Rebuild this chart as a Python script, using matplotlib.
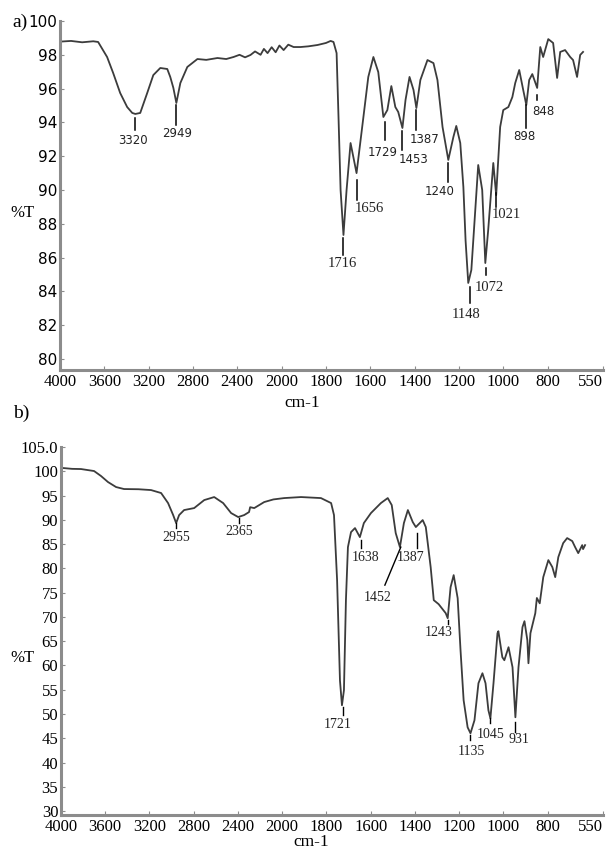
"""
FTIR spectra a) and b) - %T vs wavenumber (scale doubles below 2000 cm-1)
"""

import matplotlib
matplotlib.use("Agg")
import matplotlib.pyplot as plt
import numpy as np

# ── spectrum a) ──
wn_a = [4000, 3900, 3800, 3700, 3656, 3575, 3520, 3457, 3394, 3348, 3320, 3276,
        3213, 3158, 3095, 3032, 3005, 2977, 2950, 2914, 2851, 2760, 2680, 2579,
        2500, 2434, 2380, 2330, 2281, 2240, 2190, 2160, 2127, 2090, 2054, 2020,
        1991, 1970, 1946, 1915, 1880, 1838, 1800, 1779, 1766, 1752, 1743, 1734,
        1721, 1707, 1689, 1662, 1631, 1609, 1586, 1564, 1541, 1523, 1505, 1487,
        1474, 1455, 1441, 1423, 1405, 1392, 1374, 1342, 1315, 1297, 1274, 1248,
        1225, 1212, 1194, 1180, 1170, 1158, 1144, 1113, 1095, 1081, 1068, 1045,
        1032, 1014, 1000, 977, 959, 946, 928, 910, 896, 883, 869, 847, 833, 820,
        797, 775, 757, 743, 721, 698, 685, 667, 653, 640]
t_a = [98.78, 98.82, 98.74, 98.8, 98.76, 97.87, 96.92, 95.74, 94.91, 94.56, 94.5, 94.56,
       95.74, 96.8, 97.22, 97.16, 96.69, 96.04, 95.15, 96.33, 97.28, 97.75, 97.7, 97.81,
       97.75, 97.87, 98.0, 97.85, 97.99, 98.2, 98.0, 98.35, 98.1, 98.45, 98.15, 98.55,
       98.28, 98.6, 98.46, 98.46, 98.5, 98.58, 98.7, 98.82, 98.76, 98.1, 94.14, 90.0,
       87.34, 90.0, 92.78, 91.0, 94.32, 96.69, 97.87, 96.98, 94.32, 94.73, 96.15, 94.91,
       94.62, 93.67, 95.33, 96.69, 95.92, 94.85, 96.51, 97.69, 97.51, 96.51, 93.73, 91.78,
       93.14, 93.79, 92.78, 90.18, 87.0, 84.5, 85.27, 91.48, 90.0, 85.68, 87.63, 91.6,
       89.7, 93.73, 94.73, 94.91, 95.5, 96.33, 97.1, 95.92, 95.03, 96.51, 96.86, 96.04, 98.46, 97.87,
       98.93, 98.7, 96.63, 98.17, 98.28, 97.87, 97.69, 96.69, 97.99, 98.17]

# ── spectrum b) ──
wn_b = [3982, 3900, 3819, 3701, 3638, 3575, 3502, 3430, 3300, 3186, 3095, 3032,
        2986, 2959, 2932, 2887, 2796, 2705, 2615, 2534, 2462, 2398, 2344, 2300,
        2290, 2253, 2163, 2080, 1991, 1915, 1825, 1779, 1766, 1752, 1739, 1730,
        1721, 1712, 1703, 1689, 1671, 1649, 1631, 1599, 1554, 1523, 1505, 1487,
        1468, 1450, 1432, 1410, 1396, 1365, 1351, 1329, 1315, 1293, 1261, 1252,
        1239, 1225, 1207, 1194, 1180, 1162, 1149, 1131, 1113, 1095, 1081, 1068,
        1059, 1045, 1027, 1023, 1005, 996, 977, 959, 946, 932, 914, 905, 892,
        887, 878, 856, 849, 836, 820, 797, 779, 766, 752, 730, 712, 689, 676,
        662, 644, 640, 631]
t_b = [100.67, 100.5, 100.46, 100.05, 99.02, 97.78, 96.75, 96.34, 96.3, 96.13, 95.52, 93.45,
       90.98, 89.33, 90.98, 92.01, 92.42, 94.07, 94.69, 93.45, 91.39, 90.57, 90.98, 91.6,
       92.6, 92.42, 93.66, 94.2, 94.48, 94.69, 94.48, 93.45, 90.98, 77.6, 56.9, 51.8,
       54.9, 73.5, 84.38, 87.47, 88.3, 86.44, 89.33, 91.39, 93.45, 94.48, 93.04, 87.27,
       84.38, 89.33, 92.01, 89.54, 88.51, 89.95, 88.51, 80.26, 73.45, 72.63, 70.77, 69.74,
       76.13, 78.61, 73.87, 63.14, 52.84, 47.27, 46.03, 48.71, 56.34, 58.4, 56.34, 50.77,
       49.12, 56.34, 66.65, 67.06, 61.7, 61.08, 63.76, 59.64, 49.33, 59.64, 67.89, 69.12, 65.21,
       60.46, 66.65, 70.77, 73.9, 72.8, 78.2, 81.7, 80.26, 78.2, 82.32, 85.2, 86.24, 85.62, 84.38,
       83.14, 84.79, 83.97, 84.79]

# ── peak labels: text, line x, line y1, line y2, text x, text y ──
pk_a_lab = ["3320", "2949", "1729", "1453", "1387", "1240", "898", "848",
            "1656", "1716", "1148", "1072", "1021"]
pk_a_wn = [3321, 2950, 1532, 1455, 1392, 1248, 896, 847, 1662, 1721, 1149, 1077, 1032]
pk_a_y1 = [94.26, 95.03, 94.0, 93.5, 94.73, 91.6, 95.03, 95.62, 90.6, 87.16, 84.26, 85.38, 89.82]
pk_a_y2 = [93.55, 93.85, 92.96, 92.37, 93.55, 90.47, 93.67, 95.33, 89.4, 86.15, 83.31, 84.97, 89.0]
pk_a_tx = [3339, 2941, 1545, 1405, 1356, 1288, 905, 820, 1604, 1725, 1167, 1062, 986]
pk_a_ty = [92.9, 93.37, 92.19, 91.83, 93.0, 89.94, 93.14, 94.67, 88.93, 85.68, 82.66, 84.26, 88.58]
pk_a_serif = ["1656", "1716", "1148", "1072", "1021"]

pk_b_lab = ["2955", "2365", "1638", "1387", "1452", "1243", "1721", "1135", "1045", "931"]
pk_b_x1 = [2960, 2389, 1644, 1392, 1536, 1252, 1725, 1149, 1059, 946]
pk_b_x2 = [2960, 2389, 1644, 1392, 1464, 1252, 1725, 1149, 1059, 946]
pk_b_y1 = [89.33, 90.36, 85.82, 87.27, 76.55, 69.33, 51.39, 45.62, 49.12, 48.3]
pk_b_y2 = [88.3, 89.33, 84.18, 84.18, 84.38, 68.5, 49.74, 44.59, 48.09, 46.24]
pk_b_tx = [2960, 2389, 1622, 1419, 1568, 1293, 1748, 1144, 1059, 928]
pk_b_ty = [86.44, 87.68, 82.32, 82.32, 74.07, 66.86, 47.89, 42.32, 45.82, 44.79]

xticks = [4000, 3600, 3200, 2800, 2400, 2000, 1800, 1600, 1400, 1200, 1000, 800, 550]
yticks_a = list(range(80, 101, 2))
yticks_b = list(range(30, 106, 5))

SERIF = "Liberation Serif"
SANS = "DejaVu Sans"
C_LINE = "#3c3c3c"
C_SPINE = "#8c8c8c"


# scale: 1 cm-1 above 2000 counts half of 1 cm-1 below 2000
def fwd(w):
    w = np.asarray(w, dtype=float)
    return np.where(w >= 2000, w, 2 * w - 2000)


def inv(u):
    u = np.asarray(u, dtype=float)
    return np.where(u >= 2000, u, (u + 2000) / 2)


def style_axes(ax, ylim, yticks, ylabels, yfont, yfs):
    ax.set_xscale("function", functions=(fwd, inv))
    ax.set_xlim(4000, 550)
    ax.set_ylim(*ylim)
    for s in ["top", "right"]:
        ax.spines[s].set_visible(False)
    for s in ["left", "bottom"]:
        ax.spines[s].set_color(C_SPINE)
        ax.spines[s].set_linewidth(2.2)
    ax.set_xticks(xticks)
    ax.set_xticklabels([str(v) for v in xticks], fontfamily=SERIF, fontsize=12)
    ax.get_xticklabels()[-1].set_horizontalalignment("right")
    ax.set_yticks(yticks)
    ax.set_yticklabels(ylabels, fontfamily=yfont, fontsize=yfs)
    ax.tick_params(axis="both", direction="in", length=3, width=0.8, color=C_SPINE, pad=2)
    ax.tick_params(axis="x", pad=3)
    ax.minorticks_off()


fig = plt.figure(figsize=(6.1, 8.49), dpi=100)
W, H = 610, 849

# ── a) ──
ax1 = fig.add_axes([60 / W, 1 - 370 / H, 543 / W, 349 / H])
ax1.plot(wn_a, t_a, color=C_LINE, lw=1.3)
style_axes(ax1, (79.35, 100.0), yticks_a, [str(v) for v in yticks_a], SANS, 11)
for i, lab in enumerate(pk_a_lab):
    ax1.plot([pk_a_wn[i], pk_a_wn[i]], [pk_a_y1[i], pk_a_y2[i]], color="k", lw=1.1)
    if lab in pk_a_serif:
        ax1.text(pk_a_tx[i], pk_a_ty[i], lab, ha="center", va="center",
                 fontfamily=SERIF, fontsize=10.5, color="#222222")
    else:
        ax1.text(pk_a_tx[i], pk_a_ty[i], lab, ha="center", va="center",
                 fontfamily=SANS, fontsize=8.5, color="#222222")

# ── b) ──
ax2 = fig.add_axes([61 / W, 1 - 815 / H, 542 / W, 368 / H])
ax2.plot(wn_b, t_b, color=C_LINE, lw=1.3)
ylab_b = [str(v) for v in yticks_b]
ylab_b[-1] = "105.0"
style_axes(ax2, (29.2, 105.0), yticks_b, ylab_b, SERIF, 12)
for i, lab in enumerate(pk_b_lab):
    ax2.plot([pk_b_x1[i], pk_b_x2[i]], [pk_b_y1[i], pk_b_y2[i]], color="k", lw=1.0)
    ax2.text(pk_b_tx[i], pk_b_ty[i], lab, ha="center", va="center",
             fontfamily=SERIF, fontsize=10, color="#222222")

# ── labels ──
fig.text(22 / W, 1 - 213 / H, "%T", ha="center", va="center", fontfamily=SERIF, fontsize=12)
fig.text(22 / W, 1 - 658 / H, "%T", ha="center", va="center", fontfamily=SERIF, fontsize=12)
fig.text(302 / W, 1 - 403 / H, "cm-1", ha="center", va="center", fontfamily=SERIF, fontsize=12.5)
fig.text(311 / W, 1 - 842 / H, "cm-1", ha="center", va="center", fontfamily=SERIF, fontsize=12.5)
fig.text(12 / W, 1 - 22 / H, "a)", ha="left", va="center", fontfamily=SERIF, fontsize=14)
fig.text(13 / W, 1 - 413 / H, "b)", ha="left", va="center", fontfamily=SERIF, fontsize=14)

plt.savefig("out.png", dpi=100, facecolor="white")
plt.close()
